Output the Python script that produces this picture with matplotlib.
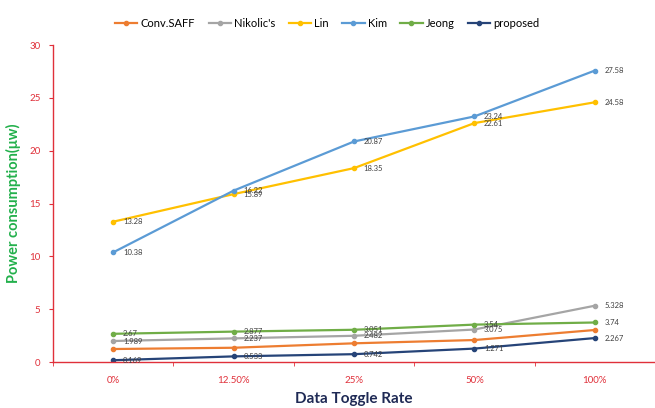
import matplotlib
matplotlib.use("Agg")
import matplotlib.pyplot as plt
import numpy as np

categories = ["0%", "12.50%", "25%", "50%", "100%"]

conv_saff = [1.23, 1.35, 1.77, 2.08, 3.03]
nikolic = [1.989, 2.237, 2.482, 3.075, 5.328]
lin = [13.28, 15.89, 18.35, 22.61, 24.58]
kim = [10.38, 16.22, 20.87, 23.24, 27.58]
jeong = [2.67, 2.877, 3.051, 3.54, 3.74]
proposed = [0.169, 0.533, 0.742, 1.271, 2.267]

series = [
    ("Conv.SAFF", conv_saff, "#ED7D31", False),
    ("Nikolic's", nikolic, "#A5A5A5", True),
    ("Lin", lin, "#FFC000", True),
    ("Kim", kim, "#5B9BD5", True),
    ("Jeong", jeong, "#70AD47", True),
    ("proposed", proposed, "#264478", True),
]

plt.rcParams["font.family"] = ["Lato", "DejaVu Sans"]

fig = plt.figure(figsize=(6.55, 4.08), dpi=100)
ax = fig.add_axes([0.081, 0.1127, 0.919, 0.777])

x = np.arange(len(categories))
for name, vals, color, labelled in series:
    ax.plot(x, vals, color=color, lw=1.6, marker="o", ms=3, label=name)
    if labelled:
        for xi, v in zip(x, vals):
            ax.annotate(f"{v:g}", (xi, v), xytext=(7, 0), textcoords="offset points",
                        fontsize=5.5, color="#404040", va="center", ha="left")

ax.set_xlim(-0.5, len(categories) - 0.5)
ax.set_ylim(0, 30)
ax.set_yticks(range(0, 31, 5))
ax.set_xticks(x)
ax.set_xticklabels(categories)
ax.set_xticks(np.arange(-0.5, len(categories), 1.0), minor=True)
ax.tick_params(axis="x", which="major", length=0, colors="#E0303A", labelsize=7, pad=10)
ax.tick_params(axis="x", which="minor", length=3, color="#E0303A", direction="out")
ax.tick_params(axis="y", length=3, color="#E0303A", labelcolor="#E0303A", labelsize=7, pad=6)

for s in ["top", "right"]:
    ax.spines[s].set_visible(False)
for s in ["left", "bottom"]:
    ax.spines[s].set_color("#E0303A")
    ax.spines[s].set_linewidth(1.0)

ax.set_ylabel("Power consumption(μw)", color="#22B04B", fontsize=10.5, fontweight="bold", labelpad=6)
ax.set_xlabel("Data Toggle Rate", color="#1F2A55", fontsize=11, fontweight="bold", labelpad=5)

fig.legend(loc="center", bbox_to_anchor=(0.5, 0.943), ncol=6, frameon=False, fontsize=8,
           handlelength=2.0, handletextpad=0.3, columnspacing=1.2)

fig.savefig("out.png", dpi=100)
